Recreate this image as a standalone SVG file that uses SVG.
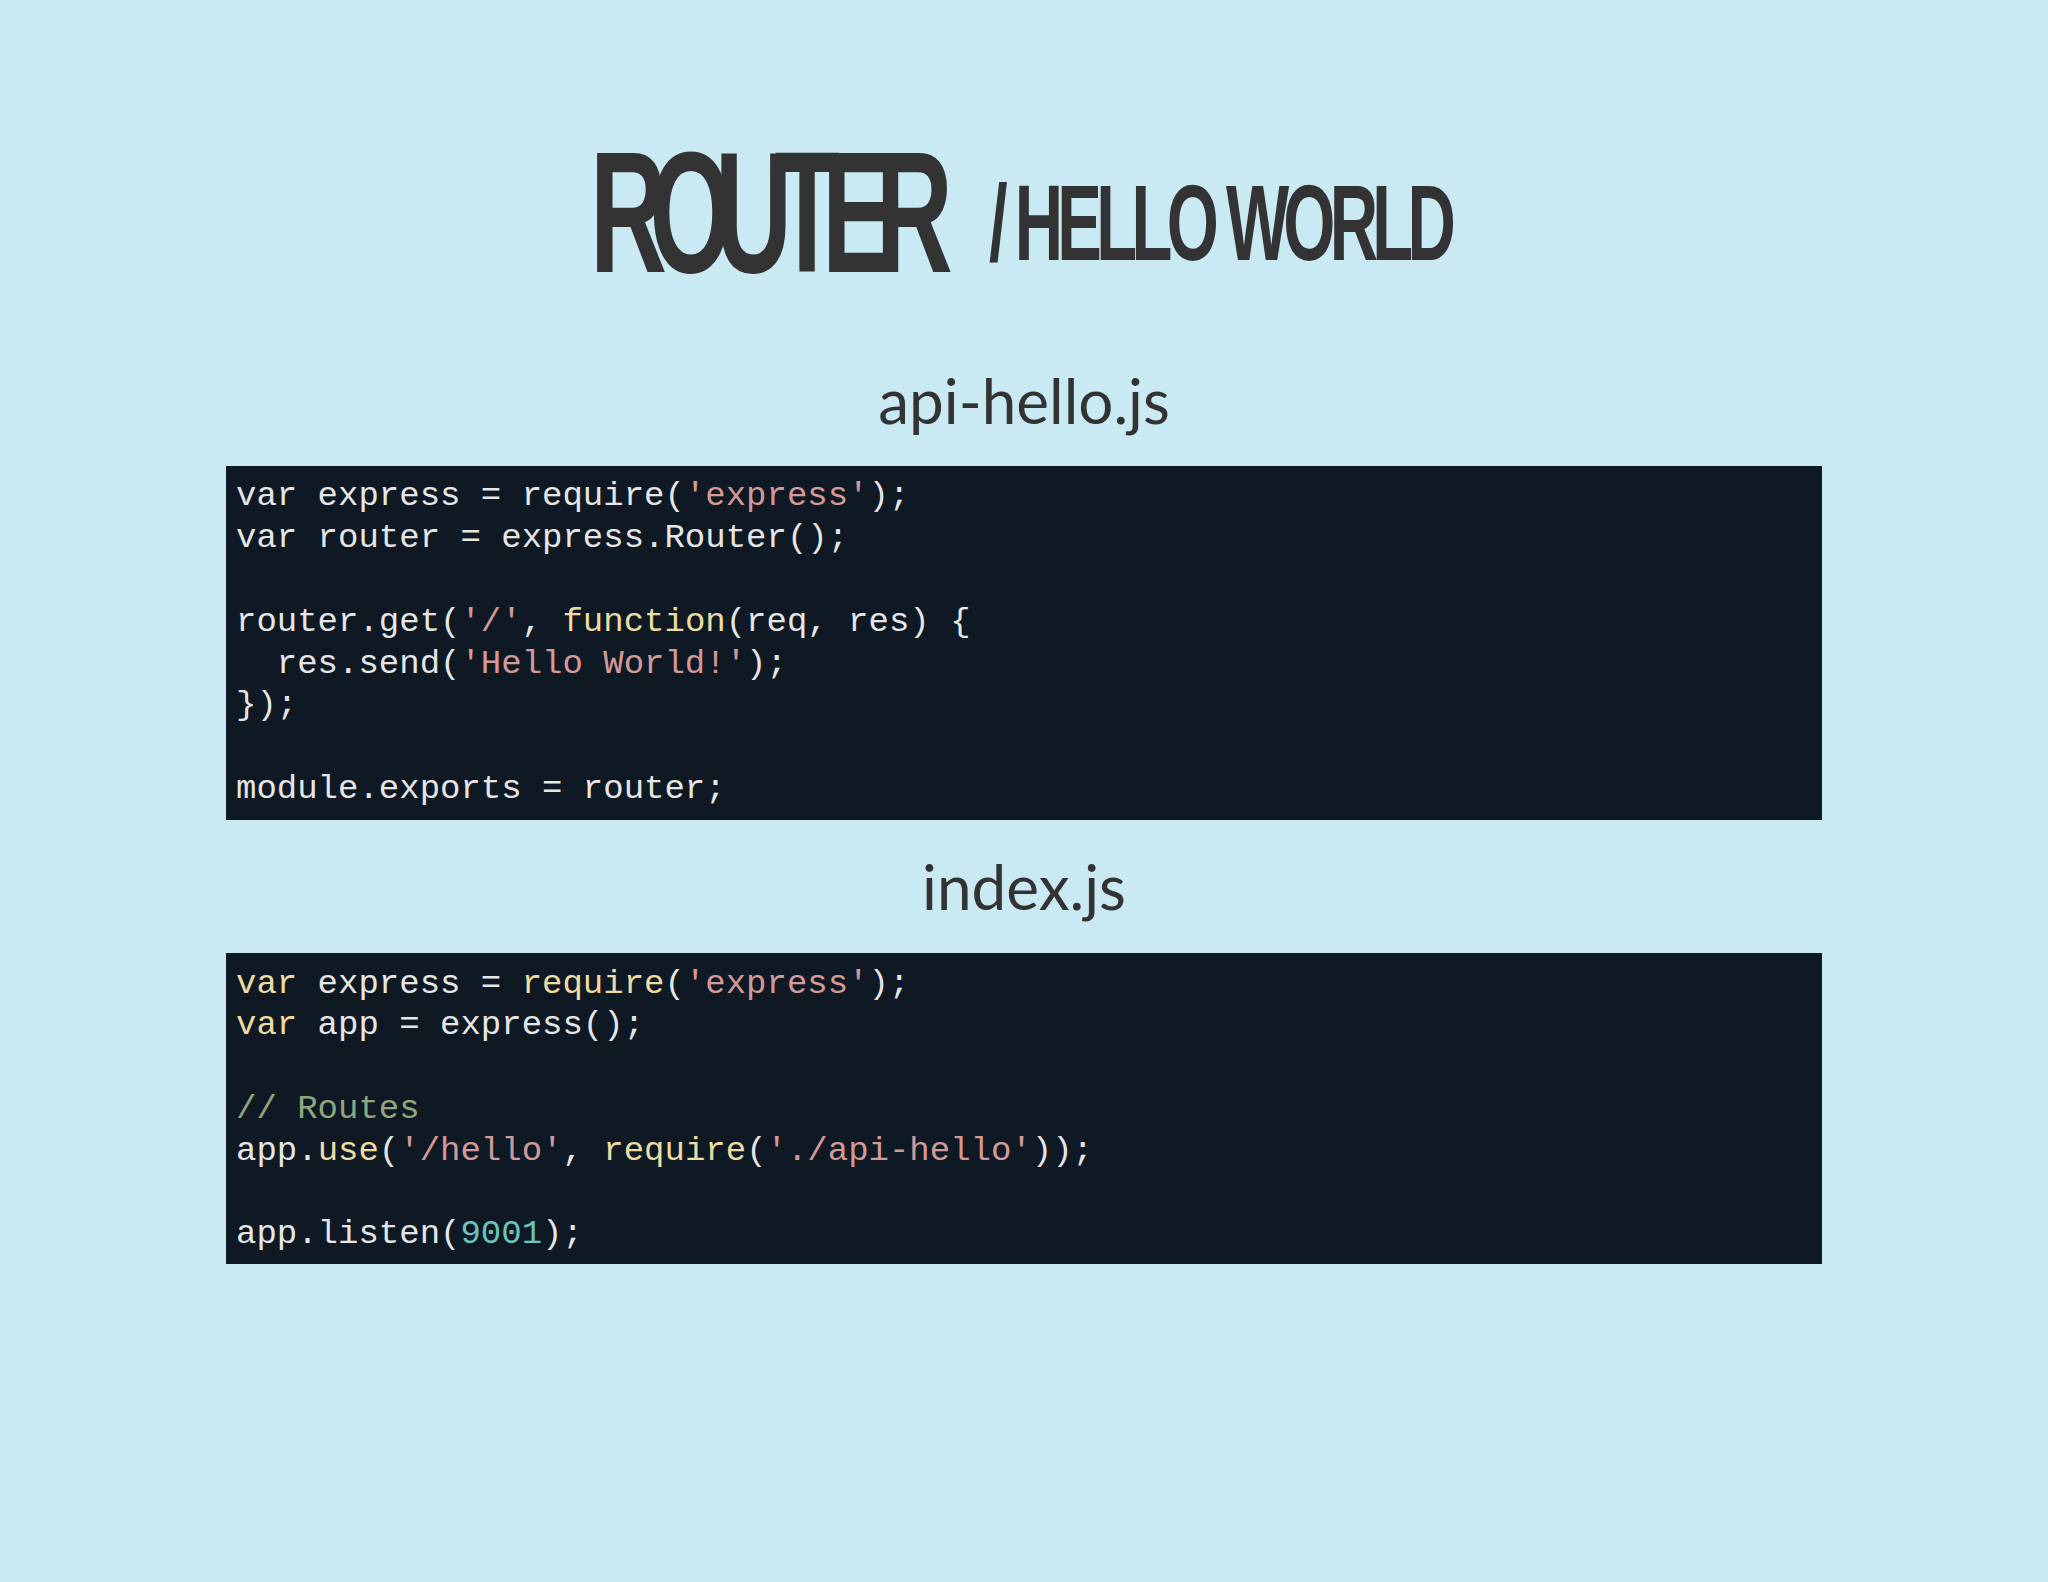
<svg xmlns="http://www.w3.org/2000/svg" width="2048" height="1582" viewBox="0 0 2048 1582">
<style>
.c{font-family:"Liberation Mono",monospace;font-size:34px;fill:#e6e6e6;white-space:pre}
.s{fill:#d49a9a}.k{fill:#efdca0}.m{fill:#8fa67e}.n{fill:#6cc4bf}
.h{font-family:Lato,"Open Sans",sans-serif;font-size:62px;fill:#333;text-anchor:middle}
.t{font-family:"Liberation Sans",sans-serif;font-weight:bold;fill:#333}
</style>
<rect width="2048" height="1582" fill="#c9eaf2"/>
<g id="title">
<text class="t" transform="translate(590,272) scale(0.62,1)" font-size="172" textLength="585">ROUTER</text>
<text class="t" transform="translate(989,260) scale(0.62,1)" font-size="108" textLength="753">/ HELLO WORLD</text>
</g>
<g id="api-hello">
<text class="h" x="1024" y="424">api-hello.js</text>
<rect x="226" y="466" width="1596" height="354" fill="#0e1923"/>
<text class="c" x="236" y="505">var express = require(<tspan class="s">'express'</tspan>);</text>
<text class="c" x="236" y="547">var router = express.Router();</text>
<text class="c" x="236" y="631">router.get(<tspan class="s">'/'</tspan>, <tspan class="k">function</tspan>(req, res) {</text>
<text class="c" x="236" y="673">  res.send(<tspan class="s">'Hello World!'</tspan>);</text>
<text class="c" x="236" y="714">});</text>
<text class="c" x="236" y="798">module.exports = router;</text>
</g>
<g id="index">
<text class="h" x="1024" y="910">index.js</text>
<rect x="226" y="953" width="1596" height="311" fill="#0e1923"/>
<text class="c" x="236" y="993"><tspan class="k">var</tspan> express = <tspan class="k">require</tspan>(<tspan class="s">'express'</tspan>);</text>
<text class="c" x="236" y="1034"><tspan class="k">var</tspan> app = express();</text>
<text class="c m" x="236" y="1118">// Routes</text>
<text class="c" x="236" y="1160">app.<tspan class="k">use</tspan>(<tspan class="s">'/hello'</tspan>, <tspan class="k">require</tspan>(<tspan class="s">'./api-hello'</tspan>));</text>
<text class="c" x="236" y="1243">app.listen(<tspan class="n">9001</tspan>);</text>
</g>
<g id="connectors"/>
</svg>
